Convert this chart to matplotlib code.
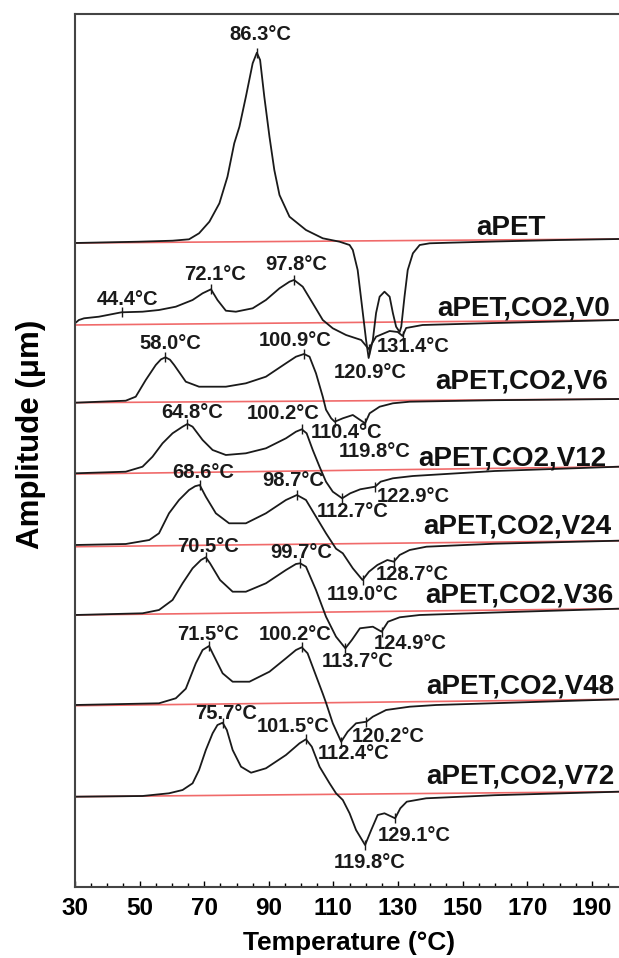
import numpy as np
import matplotlib.pyplot as plt

plt.rcParams['font.family'] = ['Liberation Sans', 'DejaVu Sans']
plt.rcParams['font.weight'] = 'bold'

# temperature (°C) and amplitude above each trace's left baseline level
apet_t = [30, 49.8, 60.2, 65.3, 68.4, 71.6, 74.7, 77.2, 79.3, 80.9, 82.9, 85.0, 86.3, 87.3, 88.6,
          90.2, 91.7, 93.3, 96.4, 101.5, 106.7, 111.9, 115.0, 116.0, 117.5, 119.1, 120.1, 120.9,
          122.2, 123.2, 124.3, 125.8, 127.4, 128.4, 129.4, 130.5, 131.0, 132.0, 133.0, 134.6,
          136.7, 139.8, 146.0, 160, 180, 198.4]
apet_a = [0, 1.3, 2.3, 3.7, 9.7, 21.3, 39.7, 66.3, 99.7, 116.3, 146.3, 179.7, 190.3, 183, 146.3,
          106.3, 73, 48, 26.3, 13, 4.7, 1.3, -2, -7, -27, -70, -97, -115,
          -97, -70, -53.7, -48.7, -53.7, -70, -83.7, -89, -83.7, -53.7, -27, -10.3,
          -2, -0.3, 0.3, 1.5, 3, 4]

v0_t = [30, 31.2, 32.8, 37.4, 44.4, 50.9, 56.0, 61.2, 66.4, 69.5, 72.1, 74.1, 76.7, 79.8, 85.0,
        89.1, 93.3, 96.4, 97.8, 100.5, 103.6, 106.7, 109.8, 113.9, 118.6, 120.9, 123.2, 127.4,
        129.9, 131.4, 132.5, 137.6, 160, 198.4]
v0_a = [1.7, 5, 6.7, 8.3, 12.7, 13.3, 15, 18.3, 25, 31.7, 35.7, 25, 14.3, 13.3, 16.7,
        25, 36.7, 43.3, 45, 38.3, 21.7, 5, -3.3, -10, -15, -24, -11.7, -6,
        -7, -11, -3, 0, 2, 5]

v6_t = [30, 45.7, 48.8, 51.9, 55.0, 56.6, 58.0, 59.4, 60.7, 64.3, 68.4, 76.7, 82.9, 89.1, 95.3,
        98.4, 100.9, 102.6, 104.6, 106.7, 107.7, 109.3, 110.4, 112.9, 116.0, 117.5, 119.8,
        121.2, 124.3, 128.4, 133.6, 160, 198.4]
v6_a = [0, 2, 6, 22.7, 37.7, 43.3, 45.4, 43, 37.7, 21, 16, 16, 19.4, 26, 39.4,
        46, 48.7, 46, 29.4, 6, -7, -15.6, -19, -15.6, -12.3, -15.6, -20.6,
        -10.6, -4, -0.6, 1, 2.5, 3.7]

v12_t = [30, 45.7, 50.9, 54.0, 57.1, 60.2, 63.3, 64.8, 66.4, 69.5, 72.6, 76.7, 82.9, 89.1, 95.3,
         98.4, 100.2, 101.7, 103.6, 105.7, 107.7, 109.8, 112.7, 115.2, 118.3, 122.9, 124.6,
         128.4, 134.6, 160, 198.4]
v12_a = [0.7, 2.3, 7.3, 17.3, 30.7, 40.7, 47.3, 50, 47.3, 34, 24, 19, 20.7, 25.7, 35.7,
         42.3, 44.7, 40.7, 24, 7.3, -7.7, -17.7, -24.3, -19.3, -15.3, -12.7, -7.7,
         -4.3, -2, 3, 7.3]

v24_t = [30, 45.7, 53.0, 56.0, 59.1, 62.2, 65.3, 67.2, 68.6, 70.5, 73.6, 77.7, 82.9, 89.1, 95.3,
         98.7, 101.5, 104.6, 107.7, 110.8, 112.9, 116.0, 119.0, 121.0, 123.6, 126.7, 128.7,
         130.5, 133.6, 138.8, 160, 198.4]
v24_a = [1.7, 2.7, 6.7, 13.4, 33.4, 46.7, 56.7, 60.5, 61.7, 50, 33.4, 23.4, 23.4, 33.4, 46.7,
         51.7, 46.7, 30, 13.4, -2, -6.6, -21.6, -33.3, -25, -18.3, -13.3, -15,
         -8.3, -3.3, 0, 3, 6]

v36_t = [30, 50.9, 56.0, 60.2, 63.3, 66.4, 69.0, 70.5, 71.8, 74.9, 78.8, 82.9, 89.1, 95.3, 98.4,
         99.7, 101.5, 104.6, 107.7, 110.8, 113.7, 115.7, 118.2, 122.2, 124.9, 126.9, 130.5,
         136.7, 160, 198.4]
v36_a = [0, 1.7, 5, 15, 31.7, 46.7, 55, 57.7, 51.7, 35, 23.3, 23.3, 31.7, 45, 51,
         51.7, 48.3, 25, -1.7, -21.7, -33.3, -25, -13.3, -11.7, -16.7, -6.7, -2.3,
         0, 2.5, 6.3]

v48_t = [30, 56.0, 61.2, 64.3, 67.4, 69.5, 71.5, 72.6, 75.7, 78.8, 84.0, 90.2, 95.3, 98.4, 100.2,
         102.0, 104.6, 106.7, 107.7, 109.8, 112.4, 114.4, 117.0, 120.2, 122.2, 126.3, 133.6,
         141.8, 160, 198.4]
v48_a = [0.7, 2.4, 7.4, 17, 42.4, 55.7, 59.7, 52.4, 32.4, 24, 24, 34, 47.4, 55.7, 58.4,
         52.4, 30, 12, 3, -17.6, -36, -26, -17.6, -16, -11, -4.3, -1,
         0.7, 2.5, 6.4]

v72_t = [30, 50.9, 59.1, 63.3, 66.4, 68.4, 70.5, 72.6, 74.1, 75.7, 77.0, 78.8, 81.4, 84.5, 89.1,
         95.3, 99.5, 101.5, 103.3, 105.7, 108.8, 110.8, 112.9, 115.0, 117.0, 119.8, 121.7,
         123.7, 125.8, 129.1, 130.7, 132.7, 138.7, 160, 198.4]
v72_a = [0, 0.7, 3.4, 6.7, 13.4, 26.7, 46.7, 63.4, 71.7, 74, 66.7, 46.7, 30, 24, 28.4,
         41.7, 53.4, 57.4, 50, 30, 13.4, 3.4, -3.3, -16.6, -33.3, -48.3, -33.3,
         -18.3, -16.6, -21.6, -11.6, -5, -1.6, 1.5, 5]

names = ['aPET', 'aPET,CO2,V0', 'aPET,CO2,V6', 'aPET,CO2,V12',
         'aPET,CO2,V24', 'aPET,CO2,V36', 'aPET,CO2,V48', 'aPET,CO2,V72']
temps = [apet_t, v0_t, v6_t, v12_t, v24_t, v36_t, v48_t, v72_t]
amps = [apet_a, v0_a, v6_a, v12_a, v24_a, v36_a, v48_a, v72_a]

# vertical stacking: baseline level at the left and right ends of each trace
base_left = [644, 562, 484.3, 413, 340.3, 272, 181.3, 90.3]
base_right = [648, 567, 488, 420.3, 346.3, 278.3, 187.7, 95.3]

# marked peak / valley temperatures
marks = [
    [86.3],
    [44.4, 72.1, 97.8, 120.9, 131.4],
    [58.0, 100.9, 110.4, 119.8],
    [64.8, 100.2, 112.7, 122.9],
    [68.6, 98.7, 119.0, 128.7],
    [70.5, 99.7, 113.7, 124.9],
    [71.5, 100.2, 112.4, 120.2],
    [75.7, 101.5, 119.8, 129.1],
]

# label offsets from the marked point, in pixels (right, down)
mark_offsets = [
    [(3, -18)],
    [(6, -13), (4, -15), (2, -16), (2, 23), (11, 10)],
    [(5, -14), (-9, -13), (12, 11), (10, 28)],
    [(5, -11), (-19, -16), (10, 13), (38, 10)],
    [(3, -13), (-4, -15), (0, 15), (18, 13)],
    [(2, -11), (1, -11), (12, 13), (29, 12)],
    [(-1.5, -12), (-7, -13), (12, 12), (22, 15)],
    [(3, -9), (-13, -13), (5, 17), (19, 17)],
]
name_pos = [(175.7, 652), (195.6, 572), (195.0, 498.7), (194.5, 422),
            (196.1, 353.7), (196.7, 284.3), (197.1, 193.7), (197.1, 103)]

fig = plt.figure(figsize=(6.19, 9.58), dpi=100)
ax = fig.add_axes([75 / 619, 71 / 958, 544 / 619, 873 / 958])

for i in range(len(names)):
    t = np.array(temps[i])
    y = base_left[i] + np.array(amps[i])
    ax.plot([t[0], t[-1]], [base_left[i], base_right[i]], color='#f06a6a', lw=1.2, zorder=1)
    ax.plot(t, y, color='#1a1a1a', lw=1.3, zorder=2, solid_joinstyle='round')
    for T, (dx, dy) in zip(marks[i], mark_offsets[i]):
        yv = np.interp(T, t, y)
        ax.plot(T, yv, marker='|', ms=7, mew=1.0, color='#1a1a1a', zorder=3)
        ax.annotate('%.1f°C' % T, (T, yv), xytext=(dx * 0.72, -dy * 0.72),
                    textcoords='offset points', ha='center', va='center',
                    fontsize=14.5, fontweight='bold', color='#1a1a1a')
    ax.text(name_pos[i][0], name_pos[i][1], names[i], ha='right', va='baseline',
            fontsize=20, fontweight='bold', color='#111111')

ax.set_xlim(30, 198.4)
ax.set_ylim(0, 873)
ax.set_xticks(np.arange(30, 191, 20))
ax.set_xticks(np.arange(30, 199, 5), minor=True)
ax.set_yticks([])
ax.tick_params(axis='x', which='major', direction='in', length=4, width=1, labelsize=17.5, pad=7)
ax.tick_params(axis='x', which='minor', direction='in', length=3, width=1)
for lab in ax.get_xticklabels():
    lab.set_fontweight('bold')
ax.spines['right'].set_visible(False)
for s in ['top', 'left', 'bottom']:
    ax.spines[s].set_color('#444444')
    ax.spines[s].set_linewidth(1.5)

ax.set_xlabel('Temperature (°C)', fontsize=19, fontweight='bold', va='center')
ax.set_ylabel('Amplitude (μm)', fontsize=22.5, fontweight='bold', va='center')
ax.xaxis.set_label_coords(0.504, -0.064)
ax.yaxis.set_label_coords(-0.080, 0.519)

fig.savefig('out.png', dpi=100)
